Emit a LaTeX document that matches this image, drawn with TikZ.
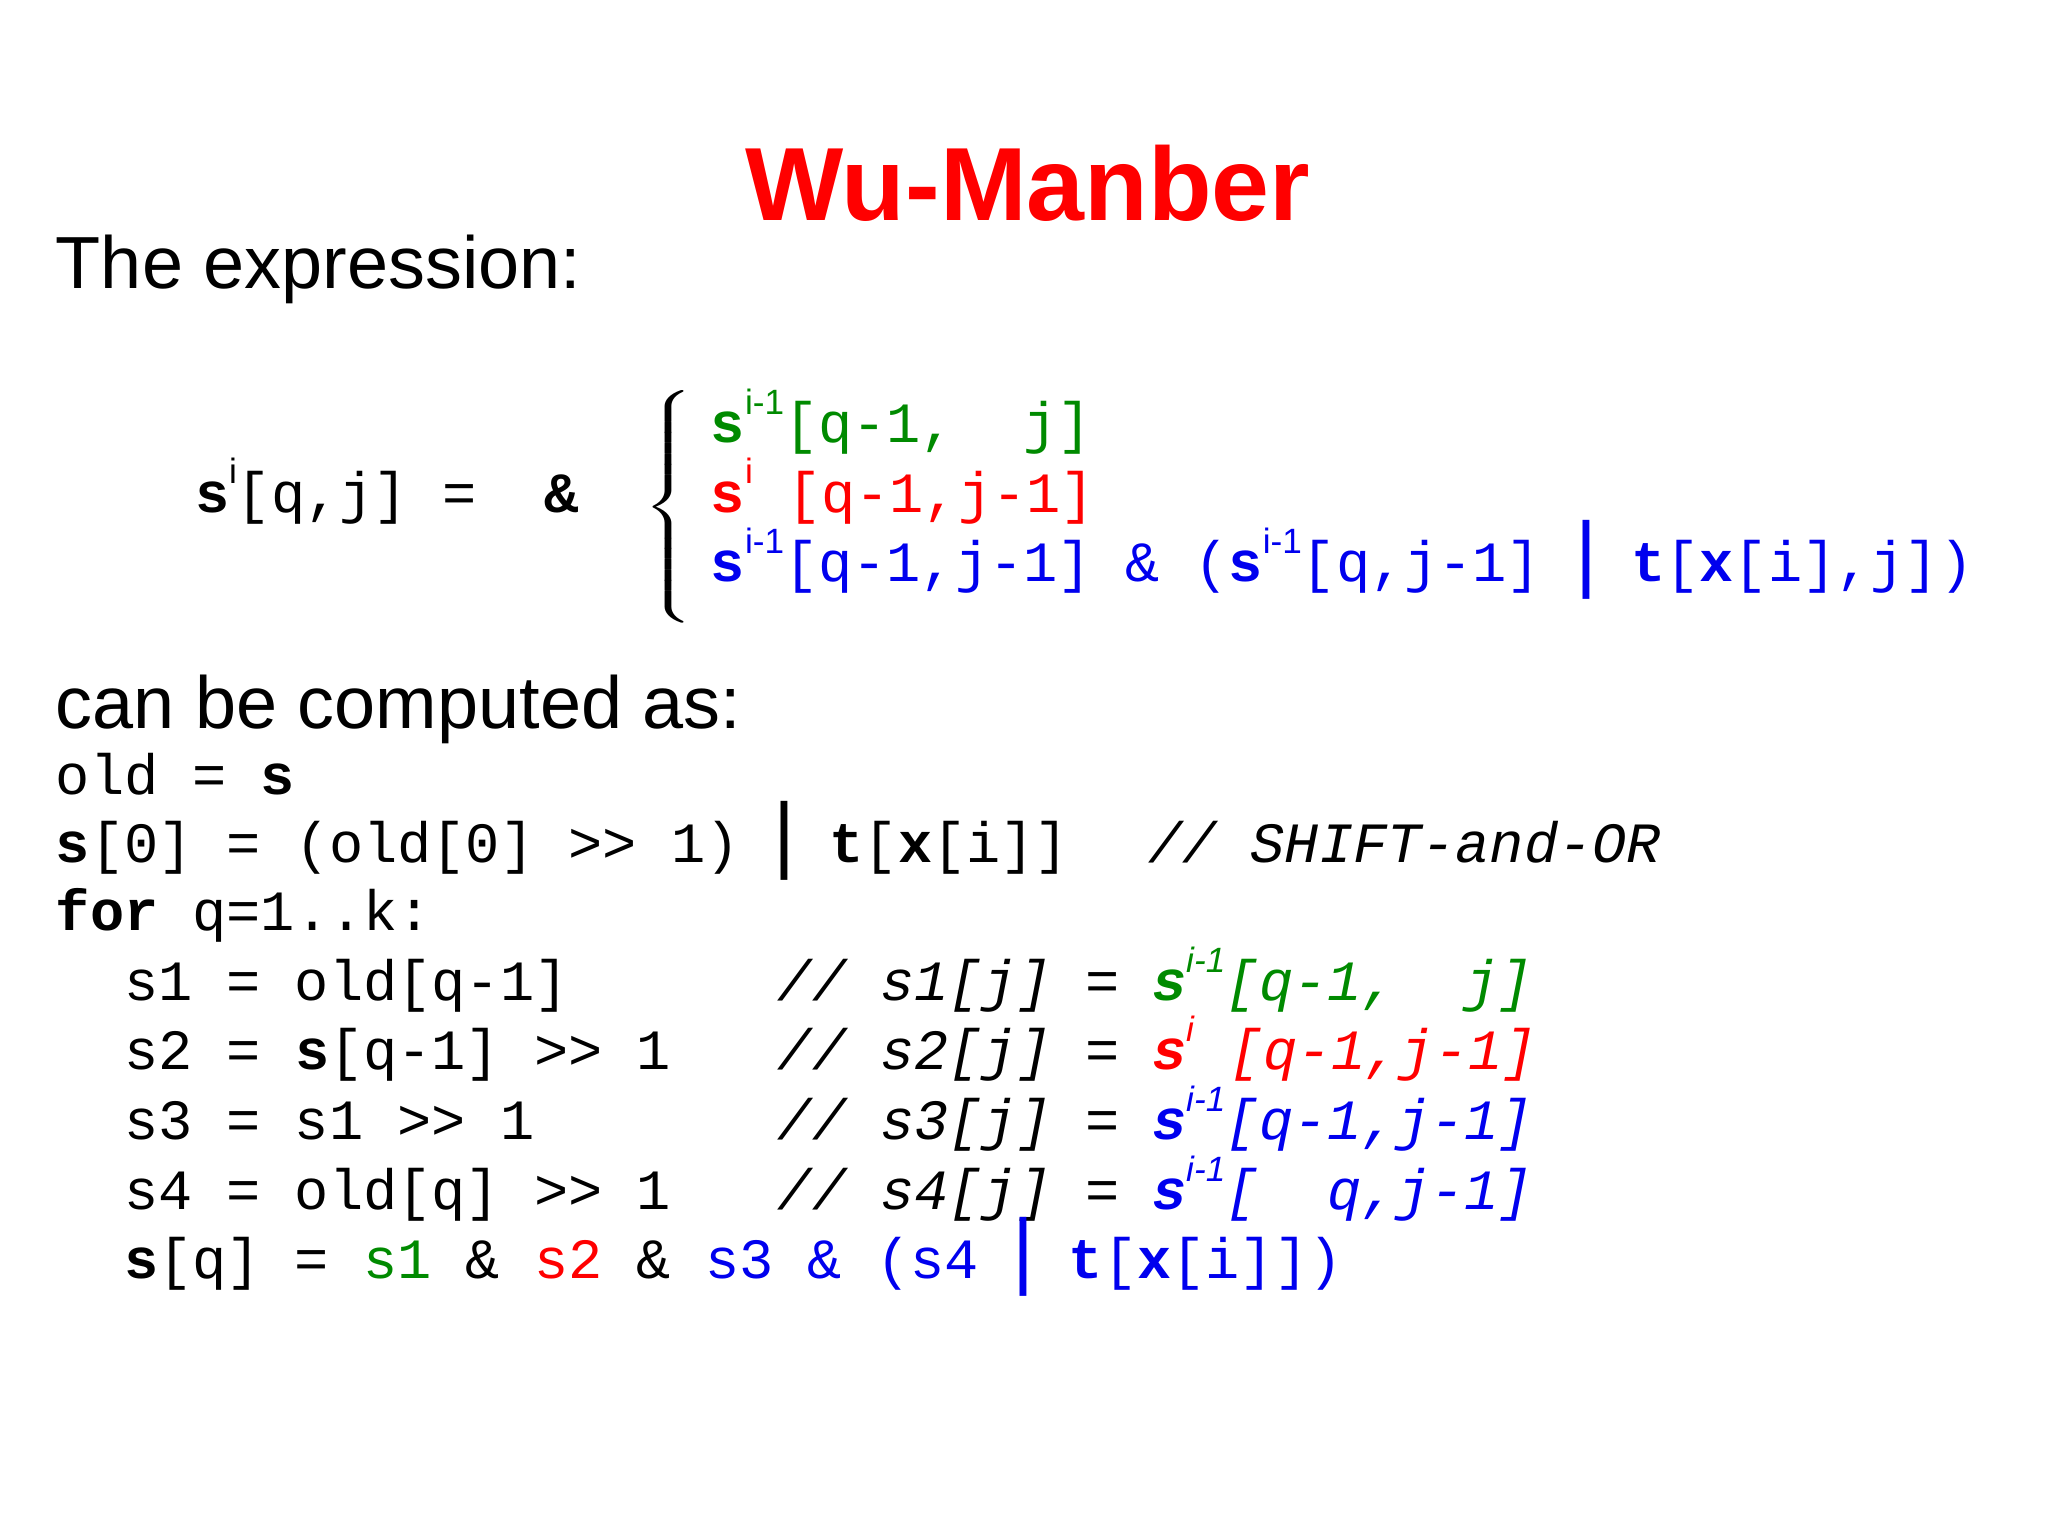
\documentclass[tikz,border=0pt]{standalone}
\usepackage{fontspec}
\setmainfont{Liberation Sans}
\setmonofont{Liberation Mono}
\usetikzlibrary{positioning}
\definecolor{ColG}{HTML}{008A00}
\definecolor{ColR}{HTML}{FF0000}
\definecolor{ColB}{HTML}{0000EE}
\newcommand{\supx}[1]{\raisebox{8pt}{\fontsize{10}{10}\selectfont\rmfamily\mdseries\upshape #1}}
\newcommand{\barx}{{\rmfamily\fontsize{24}{24}\selectfont|}}
\begin{document}
\begin{tikzpicture}[x=0.01313cm,y=-0.01313cm,
code/.style={anchor=base west,inner sep=0pt,font=\fontsize{16.2}{18}\ttfamily},
body/.style={anchor=base west,inner sep=0pt,font=\fontsize{21}{24}\selectfont},
title/.style={anchor=base,inner sep=0pt,font=\fontsize{29.6}{34}\selectfont\bfseries,text=ColR}]
\useasboundingbox (0,0) rectangle (1560,1169);

%Title and text
\node[title] (ttl) at (783,168) {Wu-Manber};
\node[body] (expr) at (42,220) {The expression:};
\node[body] (comp) at (42,555) {can be computed as:};

%Expression
\node[code] (lhs) at (148,390) {\textbf{s}\supx{i}[q,j] =~~\textbf{\&}};
\node[inner sep=0pt,anchor=center] (brace) at (512,388) {\scalebox{1.6}[1]{$\left\{\rule[-32pt]{0pt}{64pt}\right.$}};
\node[code,text=ColG] (e1) at (541,337) {\textbf{s}\supx{i-1}[q-1,~~j]};
\node[code,text=ColR] (e2) at (541,390) {\textbf{s}\supx{i}~[q-1,j-1]};
\node[code,text=ColB] (e3) at (541,443) {\textbf{s}\supx{i-1}[q-1,j-1] \& (\textbf{s}\supx{i-1}[q,j-1] \barx{} \textbf{t}[\textbf{x}[i],j])};

%Code lines
\node[code] (c1) at (42,605) {old = \textbf{s}};
\node[code] (c2) at (42,657) {\textbf{s}[0] = (old[0] >> 1) \barx{} \textbf{t}[\textbf{x}[i]]};
\node[code] (c2c) at (874,657) {\textit{// SHIFT-and-OR}};
\node[code] (c3) at (42,709) {\textbf{for} q=1..k:};
\foreach \y/\lhs/\ix/\col/\sx/\rest [count=\n] in {
  762/{s1 = old[q-1]}/1/ColG/i-1/{[q-1,~~j]},
  815/{s2 = \textbf{s}[q-1] >> 1}/2/ColR/i/{~[q-1,j-1]},
  868/{s3 = s1 >> 1}/3/ColB/i-1/{[q-1,j-1]},
  921/{s4 = old[q] >> 1}/4/ColB/i-1/{[~~q,j-1]}} {
  \node[code] (l\n) at (94,\y) {\lhs};
  \node[code] (m\n) at (592,\y) {\textit{// s\ix[j] =}};
  \node[code,text=\col] (r\n) at (877,\y) {\textbf{\textit{s}}\supx{\textit{\sx}}\textit{\rest}};
}
\node[code] (c8) at (94,974) {\textbf{s}[q] = \textcolor{ColG}{s1} \& \textcolor{ColR}{s2} \& \textcolor{ColB}{s3 \& (s4 \barx{} \textbf{t}[\textbf{x}[i]])}};
\end{tikzpicture}
\end{document}
